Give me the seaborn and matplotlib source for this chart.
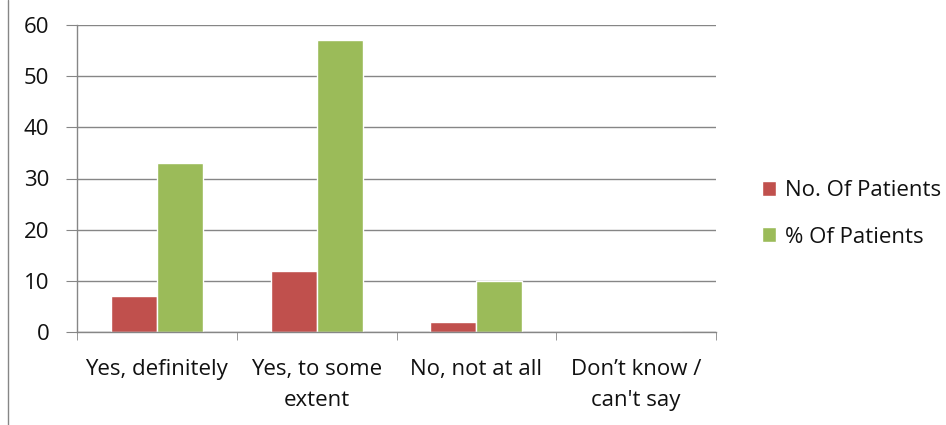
import pandas as pd
import matplotlib
matplotlib.use('Agg')
import matplotlib.pyplot as plt
import matplotlib.lines as mlines
import seaborn as sns

categories = ['Yes, definitely', 'Yes, to some\nextent', 'No, not at all', 'Don\u2019t know /\ncan\'t say']
series_names = ['No. Of Patients', '% Of Patients']
no_of_patients = [7, 12, 2, 0]
pct_of_patients = [33, 57, 10, 0]
y_ticks = [0, 10, 20, 30, 40, 50, 60]

df = pd.DataFrame({
    'Answer': categories * 2,
    'Series': [series_names[0]] * 4 + [series_names[1]] * 4,
    'Value': no_of_patients + pct_of_patients,
})

sns.set_style('white')
plt.rcParams['font.family'] = ['Open Sans', 'DejaVu Sans']

grid_color = '#868686'
fig = plt.figure(figsize=(9.46, 4.25), dpi=100)
ax = fig.add_axes([77 / 946, 1 - 332 / 425, (716 - 77) / 946, (332 - 25) / 425])

sns.barplot(data=df, x='Answer', y='Value', hue='Series',
            palette=['#C0504D', '#9BBB59'], width=0.575, ax=ax,
            saturation=1, legend=True)

ax.set_xlim(-0.5, 3.5)
ax.set_ylim(0, 60)
ax.set_yticks(y_ticks)
ax.set_xlabel('')
ax.set_ylabel('')
ax.yaxis.grid(True, color=grid_color, linewidth=1)
ax.set_axisbelow(True)

for s in ['top', 'right']:
    ax.spines[s].set_visible(False)
for s in ['left', 'bottom']:
    ax.spines[s].set_color(grid_color)
    ax.spines[s].set_linewidth(1)

ax.tick_params(axis='y', which='major', left=True, length=8, color=grid_color,
               labelsize=16, pad=12, labelcolor='#111111')
ax.tick_params(axis='x', which='major', bottom=False, labelsize=16, pad=16,
               labelcolor='#111111')
for lbl in ax.get_xticklabels():
    lbl.set_linespacing(1.6)
ax.set_xticks([-0.5, 0.5, 1.5, 2.5, 3.5], minor=True)
ax.tick_params(axis='x', which='minor', bottom=True, length=6, color=grid_color)

leg = ax.legend(loc='center left', bbox_to_anchor=(1.04, 0.385), frameon=False,
                fontsize=16, handlelength=0.65, handleheight=0.65,
                labelspacing=1.15, handletextpad=0.4)
for t in leg.get_texts():
    t.set_color('#111111')

fig.add_artist(mlines.Line2D([8 / 946, 8 / 946], [0, 1], color=grid_color, linewidth=1))

fig.savefig('out.png', dpi=100)
